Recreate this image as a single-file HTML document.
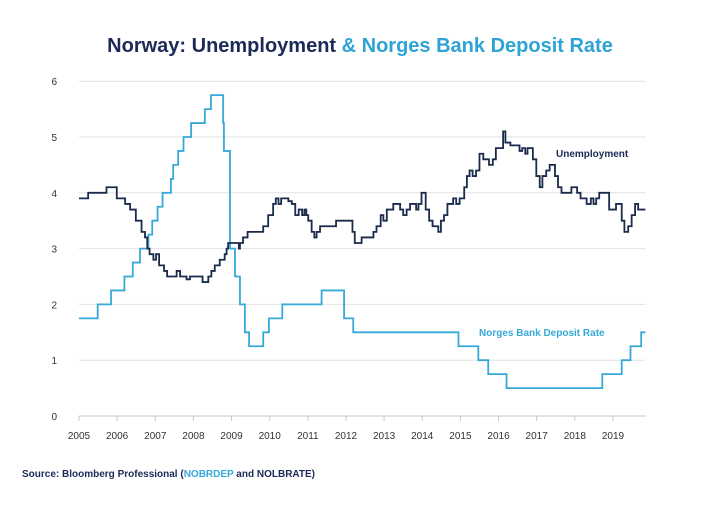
<!DOCTYPE html>
<html><head><meta charset="utf-8">
<style>
body{margin:0;background:#fff;width:720px;height:500px;overflow:hidden;font-family:"Liberation Sans",sans-serif;}
svg text{font-family:"Liberation Sans",sans-serif;}
</style></head>
<body>
<svg id="chart" width="720" height="500" xmlns="http://www.w3.org/2000/svg">
<text x="360" y="52" text-anchor="middle" font-size="20" font-weight="bold"><tspan fill="#1b2a57">Norway: Unemployment</tspan><tspan fill="#2ea3d5"> &amp; Norges Bank Deposit Rate</tspan></text>
<g id="grid"></g><g id="axes"></g><g id="series"></g>
<text x="556" y="157" font-size="10" font-weight="bold" fill="#1b2a57">Unemployment</text>
<text x="479" y="336" font-size="10" font-weight="bold" fill="#36a9d8">Norges Bank Deposit Rate</text>
<text x="22" y="477" font-size="10" font-weight="bold" fill="#1b2a57">Source: Bloomberg Professional (<tspan fill="#36a9d8">NOBRDEP</tspan> and NOLBRATE)</text>
</svg>
<script>
const yTicks=[0,1,2,3,4,5,6];
const xTicks=[2005,2006,2007,2008,2009,2010,2011,2012,2013,2014,2015,2016,2017,2018,2019];
const depDates=[0,0.49,0.84,1.19,1.41,1.6,1.82,1.92,2.06,2.19,2.41,2.47,2.6,2.74,2.94,3.3,3.46,3.78,3.8,3.96,4.09,4.22,4.35,4.46,4.83,4.98,5.33,6.36,6.95,7.19,9.95,10.47,10.73,11.21,13.72,14.23,14.46,14.74];
const depValues=[1.75,2,2.25,2.5,2.75,3,3.25,3.5,3.75,4,4.25,4.5,4.75,5,5.25,5.5,5.75,5.25,4.75,3,2.5,2,1.5,1.25,1.5,1.75,2,2.25,1.75,1.5,1.25,1,0.75,0.5,0.75,1,1.25,1.5];
const unDates=[0,0.24,0.72,0.99,1.21,1.34,1.49,1.64,1.73,1.79,1.85,1.95,2.02,2.1,2.23,2.31,2.56,2.65,2.82,2.91,3.24,3.39,3.47,3.56,3.69,3.82,3.87,3.91,4.19,4.22,4.3,4.42,4.83,4.96,5.09,5.16,5.23,5.3,5.49,5.58,5.67,5.76,5.85,5.91,5.96,6.01,6.1,6.17,6.23,6.32,6.74,7.17,7.23,7.41,7.72,7.8,7.91,7.98,8.07,8.24,8.42,8.5,8.59,8.68,8.84,8.9,8.98,9.09,9.18,9.27,9.42,9.49,9.57,9.66,9.81,9.89,9.98,10.1,10.17,10.24,10.32,10.41,10.5,10.6,10.75,10.85,10.93,11.08,11.12,11.18,11.31,11.55,11.62,11.7,11.76,11.9,11.99,12.08,12.15,12.25,12.34,12.48,12.56,12.65,12.91,13.06,13.15,13.31,13.42,13.49,13.56,13.64,13.9,14.08,14.23,14.3,14.4,14.49,14.58,14.66];
const unValues=[3.9,4,4.1,3.9,3.8,3.7,3.5,3.3,3.2,3,2.9,2.8,2.9,2.7,2.6,2.5,2.6,2.5,2.45,2.5,2.4,2.5,2.6,2.7,2.8,2.9,3,3.1,3,3.1,3.2,3.3,3.4,3.6,3.8,3.9,3.8,3.9,3.85,3.8,3.6,3.7,3.6,3.7,3.6,3.5,3.3,3.2,3.3,3.4,3.5,3.3,3.1,3.2,3.3,3.4,3.6,3.5,3.7,3.8,3.7,3.6,3.7,3.8,3.7,3.8,4,3.7,3.5,3.4,3.3,3.5,3.6,3.8,3.9,3.8,3.9,4.1,4.3,4.4,4.3,4.4,4.7,4.6,4.5,4.6,4.8,4.8,5.1,4.9,4.85,4.75,4.8,4.7,4.8,4.6,4.3,4.1,4.3,4.4,4.5,4.3,4.1,4,4.1,4,3.9,3.8,3.9,3.8,3.9,4,3.7,3.8,3.5,3.3,3.4,3.6,3.8,3.7];
const endX=14.85;
const NS="http://www.w3.org/2000/svg";
const X0=79,XW=38.14,Y0=416,YH=55.8;
const xs=t=>X0+t*XW, ys=v=>Y0-v*YH;
const grid=document.getElementById('grid'),axes=document.getElementById('axes'),ser=document.getElementById('series');
function mk(tag,attrs,parent){const e=document.createElementNS(NS,tag);for(const k in attrs)e.setAttribute(k,attrs[k]);parent.appendChild(e);return e;}
yTicks.forEach(v=>{
 const l=mk('line',{x1:X0,x2:xs(endX),y1:ys(v),y2:ys(v),stroke:v===0?'#c8c8c8':'#e2e2e2','stroke-width':1},grid);
 
 
 const t=mk('text',{x:57,y:ys(v)+4,'font-size':10,fill:'#333','text-anchor':'end'},axes);
 t.textContent=v;
 
 
});
xTicks.forEach(yr=>{
 const x=xs(yr-2005);
 const l=mk('line',{x1:x,x2:x,y1:Y0,y2:Y0+5,stroke:'#c8c8c8'},axes);
 
 
 const t=mk('text',{x:x,y:Y0+23,'font-size':10,fill:'#333','text-anchor':'middle'},axes);
 t.textContent=yr;
 
 
});
function stepPath(d,v){let s='M'+xs(d[0])+','+ys(v[0]);for(let i=1;i<d.length;i++){s+='H'+xs(d[i])+'V'+ys(v[i]);}s+='H'+xs(endX);return s;}
const p1=mk('path',{d:stepPath(depDates,depValues),fill:'none',stroke:'#36a9d8','stroke-width':1.8},ser);


const p2=mk('path',{d:stepPath(unDates,unValues),fill:'none',stroke:'#1a2b4c','stroke-width':1.8},ser);


</script>
</body></html>
